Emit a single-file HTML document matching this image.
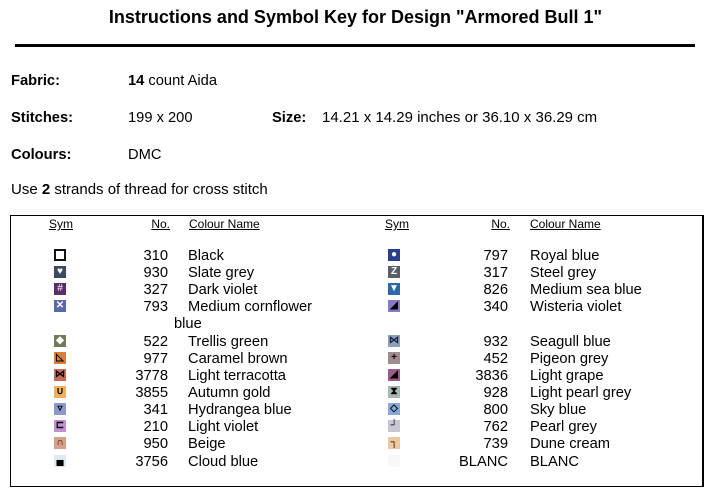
<!DOCTYPE html>
<html><head><meta charset="utf-8"><style>
body{margin:0;width:709px;height:491px;background:#fff;position:relative;overflow:hidden;font-family:"Liberation Sans",Arial,sans-serif;color:#000}
.t{position:absolute;font-size:14.7px;line-height:18px;white-space:nowrap}
.b{font-weight:bold}
.u{text-decoration:underline;font-size:12px}
.r{text-align:right}
.ic{position:absolute;width:12px;height:12px;font-size:10px;line-height:12px;text-align:center;font-weight:bold;color:#fff}
</style></head><body>
<div class="t b" style="left:0;width:711px;text-align:center;top:7px;font-size:18px;line-height:20px">Instructions and Symbol Key for Design "Armored Bull 1"</div>
<div style="position:absolute;left:15px;top:44px;width:680px;height:3px;background:#000"></div>
<div class="t b" style="left:11px;top:72px">Fabric:</div>
<div class="t" style="left:128px;top:72px"><b>14</b> count Aida</div>
<div class="t b" style="left:11px;top:109px">Stitches:</div>
<div class="t" style="left:128px;top:109px">199 x 200</div>
<div class="t b" style="left:272px;top:109px">Size:</div>
<div class="t" style="left:322px;top:109px;font-size:15px">14.21 x 14.29 inches or 36.10 x 36.29 cm</div>
<div class="t b" style="left:11px;top:146px">Colours:</div>
<div class="t" style="left:128px;top:146px">DMC</div>
<div class="t" style="left:11px;top:181px;font-size:15px">Use <b>2</b> strands of thread for cross stitch</div>
<div style="position:absolute;left:10px;top:215px;width:691px;height:270px;border:1px solid #000;border-right-width:2px"></div>
<div class="t u" style="left:49px;top:215px">Sym</div>
<div class="t u r" style="left:120px;width:50px;top:215px">No.</div>
<div class="t u" style="left:189px;top:215px">Colour Name</div>
<div class="t u" style="left:385px;top:215px">Sym</div>
<div class="t u r" style="left:460px;width:50px;top:215px">No.</div>
<div class="t u" style="left:530px;top:215px">Colour Name</div>

<div class="ic" style="left:54px;top:249px;width:8px;height:8px;border:2px solid #111;background:#fff"></div>
<div class="t r" style="left:110px;width:58px;top:247px">310</div><div class="t" style="left:188px;top:247px">Black</div>
<div class="ic" style="left:54px;top:266px;background:#3b4a5e">♥</div>
<div class="t r" style="left:110px;width:58px;top:264px">930</div><div class="t" style="left:188px;top:264px">Slate grey</div>
<div class="ic" style="left:54px;top:283px;background:#5a2e6a;font-weight:normal">#</div>
<div class="t r" style="left:110px;width:58px;top:281px">327</div><div class="t" style="left:188px;top:281px">Dark violet</div>
<div class="ic" style="left:54px;top:300px;background:#5a6aa8">✕</div>
<div class="t r" style="left:110px;width:58px;top:298px">793</div><div class="t" style="left:188px;top:298px">Medium cornflower</div>
<div class="t" style="left:174px;top:315px">blue</div>
<div class="ic" style="left:54px;top:335px;background:#6f7a5a">◆</div>
<div class="t r" style="left:110px;width:58px;top:333px">522</div><div class="t" style="left:188px;top:333px">Trellis green</div>
<div class="ic" style="left:54px;top:352px;background:#d8803a;color:#000">◺</div>
<div class="t r" style="left:110px;width:58px;top:350px">977</div><div class="t" style="left:188px;top:350px">Caramel brown</div>
<div class="ic" style="left:54px;top:369px;background:#c86a58;color:#000">⋈</div>
<div class="t r" style="left:110px;width:58px;top:367px">3778</div><div class="t" style="left:188px;top:367px">Light terracotta</div>
<div class="ic" style="left:54px;top:386px;background:#f0b060;color:#000">∪</div>
<div class="t r" style="left:110px;width:58px;top:384px">3855</div><div class="t" style="left:188px;top:384px">Autumn gold</div>
<div class="ic" style="left:54px;top:403px;background:#8c98cc;color:#000">▿</div>
<div class="t r" style="left:110px;width:58px;top:401px">341</div><div class="t" style="left:188px;top:401px">Hydrangea blue</div>
<div class="ic" style="left:54px;top:420px;background:#c090d0;color:#000">⊏</div>
<div class="t r" style="left:110px;width:58px;top:418px">210</div><div class="t" style="left:188px;top:418px">Light violet</div>
<div class="ic" style="left:54px;top:437px;background:#d8a088;color:#000">∩</div>
<div class="t r" style="left:110px;width:58px;top:435px">950</div><div class="t" style="left:188px;top:435px">Beige</div>
<div class="ic" style="left:54px;top:455px;background:#dceaf0;color:#000">▄</div>
<div class="t r" style="left:110px;width:58px;top:453px">3756</div><div class="t" style="left:188px;top:453px">Cloud blue</div>

<div class="ic" style="left:388px;top:249px;background:#2a3e8c">●</div>
<div class="t r" style="left:440px;width:68px;top:247px">797</div><div class="t" style="left:530px;top:247px">Royal blue</div>
<div class="ic" style="left:388px;top:266px;background:#5a5e66">Z</div>
<div class="t r" style="left:440px;width:68px;top:264px">317</div><div class="t" style="left:530px;top:264px">Steel grey</div>
<div class="ic" style="left:388px;top:283px;background:#2a6aa8">▼</div>
<div class="t r" style="left:440px;width:68px;top:281px">826</div><div class="t" style="left:530px;top:281px">Medium sea blue</div>
<div class="ic" style="left:388px;top:300px;background:#8878c8;color:#000">◢</div>
<div class="t r" style="left:440px;width:68px;top:298px">340</div><div class="t" style="left:530px;top:298px">Wisteria violet</div>
<div class="ic" style="left:388px;top:335px;background:#8aa0b8;color:#224">⋈</div>
<div class="t r" style="left:440px;width:68px;top:333px">932</div><div class="t" style="left:530px;top:333px">Seagull blue</div>
<div class="ic" style="left:388px;top:352px;background:#a08c8c;color:#000">+</div>
<div class="t r" style="left:440px;width:68px;top:350px">452</div><div class="t" style="left:530px;top:350px">Pigeon grey</div>
<div class="ic" style="left:388px;top:369px;background:#9a5a8a;color:#000">◢</div>
<div class="t r" style="left:440px;width:68px;top:367px">3836</div><div class="t" style="left:530px;top:367px">Light grape</div>
<div class="ic" style="left:388px;top:386px;background:#a8b8b0;color:#000">⧗</div>
<div class="t r" style="left:440px;width:68px;top:384px">928</div><div class="t" style="left:530px;top:384px">Light pearl grey</div>
<div class="ic" style="left:388px;top:403px;background:#88a8d8;color:#000">◇</div>
<div class="t r" style="left:440px;width:68px;top:401px">800</div><div class="t" style="left:530px;top:401px">Sky blue</div>
<div class="ic" style="left:388px;top:420px;background:#c8c8d4;color:#000">┘</div>
<div class="t r" style="left:440px;width:68px;top:418px">762</div><div class="t" style="left:530px;top:418px">Pearl grey</div>
<div class="ic" style="left:388px;top:437px;background:#f0c8a0;color:#000">┐</div>
<div class="t r" style="left:440px;width:68px;top:435px">739</div><div class="t" style="left:530px;top:435px">Dune cream</div>
<div class="ic" style="left:388px;top:455px;background:#f8f8f8"></div>
<div class="t r" style="left:440px;width:68px;top:453px">BLANC</div><div class="t" style="left:530px;top:453px">BLANC</div>
</body></html>
